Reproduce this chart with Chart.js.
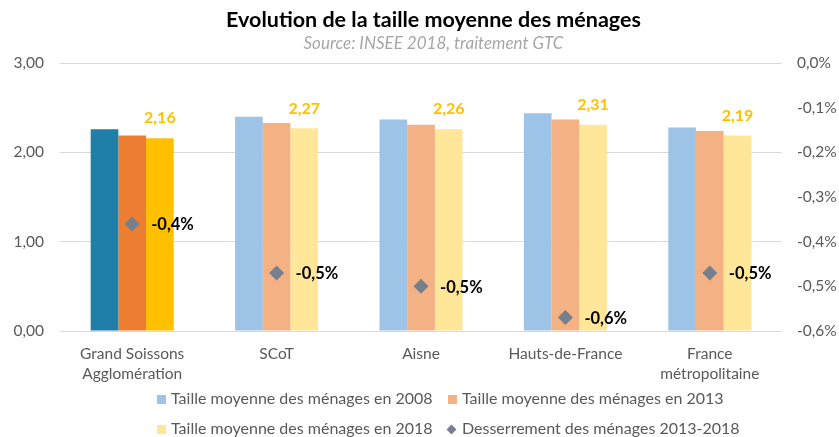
<!DOCTYPE html>
<html>
<head>
<meta charset="utf-8">
<script src="https://cdn.jsdelivr.net/npm/chart.js@4"></script>
<style>
  body { margin: 0; background: #fff; }
  #wrap { position: relative; width: 839px; height: 437px; }
  #legend { position: absolute; left: 0; top: 387px; width: 839px; font-family: Lato, sans-serif; font-size: 16px; color: #595959; }
  .item { position: absolute; white-space: nowrap; line-height: 20px; }
  .sq { display: inline-block; width: 9px; height: 9px; margin-right: 5px; vertical-align: 0px; }
  .dia { display: inline-block; width: 7px; height: 7px; margin-right: 7px; margin-left: 1px; transform: rotate(45deg); background: #74808d; vertical-align: 1px; }
</style>
</head>
<body>
<div id="wrap">
  <canvas id="chart" width="839" height="437"></canvas>
  <div id="legend">
    <div class="item" style="left:157px; top:1px;"><span class="sq" style="background:#9dc3e6"></span>Taille moyenne des ménages en 2008</div>
    <div class="item" style="left:448px; top:1px;"><span class="sq" style="background:#f4b183"></span>Taille moyenne des ménages en 2013</div>
    <div class="item" style="left:157px; top:31px;"><span class="sq" style="background:#ffe699"></span>Taille moyenne des ménages en 2018</div>
    <div class="item" style="left:447px; top:31px;"><span class="dia"></span>Desserrement des ménages 2013-2018</div>
  </div>
</div>
<script>
// valeurs
var categories = [["Grand Soissons", "Agglomération"], "SCoT", "Aisne", "Hauts-de-France", ["France", "métropolitaine"]];
var taille2008 = [2.26, 2.40, 2.37, 2.44, 2.28];
var taille2013 = [2.19, 2.33, 2.31, 2.37, 2.24];
var taille2018 = [2.16, 2.27, 2.26, 2.31, 2.19];
var desserrement = [-0.36, -0.47, -0.50, -0.57, -0.47];
var desserrementLabels = ["-0,4%", "-0,5%", "-0,5%", "-0,6%", "-0,5%"];

// couleurs : la 1ere categorie est en teinte foncee
var col2008 = ["#1f7fa9", "#9dc3e6", "#9dc3e6", "#9dc3e6", "#9dc3e6"];
var col2013 = ["#ed7d31", "#f4b183", "#f4b183", "#f4b183", "#f4b183"];
var col2018 = ["#ffc000", "#ffe699", "#ffe699", "#ffe699", "#ffe699"];

function fr(v, d) {
  return v.toFixed(d).replace('.', ',');
}

const labelsPlugin = {
  id: 'labels',
  afterLayout(chart) {
    // le titre est un peu decale vers la droite dans l'original
    chart.boxes.forEach(b => {
      if (b.options && b.options.text) { b.left += 14; b.right += 14; }
    });
  },
  afterDatasetsDraw(chart) {
    const ctx = chart.ctx;
    ctx.save();
    ctx.textBaseline = 'middle';
    // etiquettes 2018
    ctx.font = 'bold 16px Lato';
    ctx.fillStyle = '#ffc000';
    ctx.textAlign = 'center';
    chart.getDatasetMeta(3).data.forEach((bar, i) => {
      ctx.fillText(fr(taille2018[i], 2), bar.x, bar.y - 20);
    });
    // etiquettes desserrement
    ctx.font = 'bold 16.5px Lato';
    ctx.fillStyle = '#000';
    ctx.textAlign = 'left';
    chart.getDatasetMeta(0).data.forEach((pt, i) => {
      ctx.fillText(desserrementLabels[i], pt.x + 19, pt.y + 1);
    });
    ctx.restore();
  }
};

new Chart(document.getElementById('chart'), {
  type: 'bar',
  data: {
    labels: categories,
    datasets: [
      { type: 'line', label: 'Desserrement des ménages 2013-2018', data: desserrement, yAxisID: 'y2',
        showLine: false, pointStyle: 'rectRot', pointRadius: 7.5, pointHoverRadius: 7.5,
        backgroundColor: '#74808d', borderColor: '#74808d', borderWidth: 0, order: 0 },
      { label: 'Taille moyenne des ménages en 2008', data: taille2008, backgroundColor: col2008, yAxisID: 'y', order: 1 },
      { label: 'Taille moyenne des ménages en 2013', data: taille2013, backgroundColor: col2013, yAxisID: 'y', order: 1 },
      { label: 'Taille moyenne des ménages en 2018', data: taille2018, backgroundColor: col2018, yAxisID: 'y', order: 1 }
    ]
  },
  options: {
    responsive: false,
    animation: false,
    categoryPercentage: 0.575,
    barPercentage: 1,
    layout: { padding: { left: 0, right: 0, top: 0, bottom: 52 } },
    plugins: {
      legend: { display: false },
      tooltip: { enabled: false },
      title: {
        display: true,
        text: 'Evolution de la taille moyenne des ménages',
        font: { family: 'Lato', size: 21.5, weight: 'bold' },
        color: '#000',
        padding: { top: 7, bottom: 1 }
      },
      subtitle: {
        display: true,
        text: 'Source: INSEE 2018, traitement GTC',
        font: { family: 'Lato', size: 17, style: 'italic' },
        color: '#a6a6a6',
        padding: { top: 0, bottom: 9 }
      }
    },
    scales: {
      x: {
        grid: { display: false },
        border: { display: false },
        ticks: { color: '#595959', font: { family: 'Lato', size: 15.5, lineHeight: 1.3 }, padding: 5, maxRotation: 0 },
        afterFit(s) { s.height = 54; }
      },
      y: {
        position: 'left',
        min: 0, max: 3,
        grid: { color: '#d9d9d9', drawTicks: false },
        border: { display: false },
        ticks: { stepSize: 1, color: '#595959', font: { family: 'Lato', size: 15.5 }, padding: 16,
          callback: v => fr(v, 2) },
        afterFit(s) { s.width = 60; }
      },
      y2: {
        position: 'right',
        min: -0.6, max: 0,
        grid: { display: false },
        border: { display: false },
        ticks: { stepSize: 0.1, color: '#595959', font: { family: 'Lato', size: 15.5 }, padding: 7,
          callback: v => fr(v, 1) + '%' },
        afterFit(s) { s.width = 57; }
      }
    }
  },
  plugins: [labelsPlugin]
});
</script>
</body>
</html>
